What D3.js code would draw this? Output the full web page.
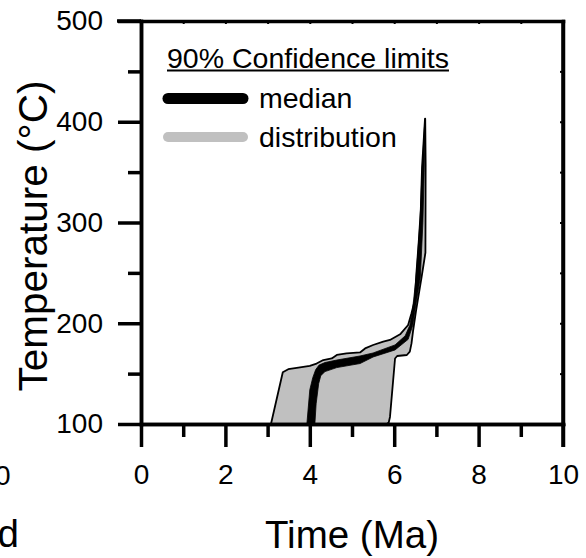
<!DOCTYPE html>
<html>
<head>
<meta charset="utf-8">
<script src="https://cdn.jsdelivr.net/npm/d3@7"></script>
<style>
  body { margin: 0; background: #fff; }
  svg { display: block; }
  text { font-family: "Liberation Sans", Arial, Helvetica, sans-serif; fill: #000; }
</style>
</head>
<body>
<svg id="chart" width="586" height="558"></svg>
<script>
// Axis ticks
const xMajor = [0, 2, 4, 6, 8, 10];
const xMinor = [1, 3, 5, 7, 9];
const yMajor = [100, 200, 300, 400, 500];
const yMinor = [150, 250, 350, 450];

// 90% confidence limits of the thermal history: [time (Ma), temperature (°C)]
// Distribution envelope, upper/left limit (from base up to the spike)
const distUpper = [
  [3.08, 100], [3.36, 151.3], [3.49, 154.4], [3.69, 155.6], [4.00, 157.7],
  [4.16, 160.0], [4.32, 163.5], [4.52, 165.1], [4.64, 168.5], [4.87, 170.2],
  [5.19, 171.0], [5.31, 175.0], [5.50, 178.4], [5.74, 181.7], [5.90, 183.4],
  [6.14, 189.0], [6.33, 198.3], [6.41, 210.0], [6.49, 223.0], [6.52, 246.0],
  [6.58, 280.0], [6.63, 312.0], [6.66, 355.0], [6.73, 403.0]
];
// Distribution envelope, lower/right limit (from the spike back down to base)
const distLower = [
  [6.735, 403.0], [6.745, 357.0], [6.74, 270.0], [6.65, 246.0], [6.52, 213.0],
  [6.45, 193.3], [6.41, 180.0], [6.37, 171.8], [6.30, 168.5], [6.07, 167.5],
  [6.02, 165.0], [5.90, 107.0], [5.87, 101.5], [5.83, 100]
];
// Median confidence band, upper/left limit
const medUpper = [
  [3.93, 100], [4.00, 134], [4.07, 146], [4.14, 154], [4.22, 158.5],
  [4.36, 161], [4.64, 163.5], [5.19, 167.5], [5.50, 170.5], [6.02, 178.5],
  [6.26, 187.5], [6.37, 198], [6.43, 212], [6.52, 246], [6.61, 300],
  [6.66, 350], [6.71, 390], [6.73, 403]
];
// Median confidence band, lower/right limit
const medLower = [
  [6.735, 403], [6.73, 390], [6.71, 350], [6.68, 300], [6.62, 246],
  [6.49, 212], [6.44, 198], [6.33, 184], [6.02, 173.5], [5.50, 166.5],
  [5.19, 160], [4.64, 156], [4.36, 152], [4.26, 148], [4.21, 140],
  [4.15, 120], [4.12, 100]
];

const svg = d3.select("#chart");
const x = d3.scaleLinear().domain([0, 10]).range([141, 563]);
const y = d3.scaleLinear().domain([100, 500]).range([424, 21]);

const area = d3.line().x(d => x(d[0])).y(d => y(d[1]));

// distribution envelope
svg.append("path")
  .attr("d", area(distUpper.concat(distLower)) + "Z")
  .attr("fill", "#c0c0c0")
  .attr("stroke", "#000")
  .attr("stroke-width", 1.8)
  .attr("stroke-linejoin", "round");

// median band
svg.append("path")
  .attr("d", area(medUpper.concat(medLower)) + "Z")
  .attr("fill", "#000")
  .attr("stroke", "#000")
  .attr("stroke-width", 0.8)
  .attr("stroke-linejoin", "round");

const AXW = 3.5;
const TICK_FONT = "28px";
function styleAxis(g) {
  g.select(".domain").attr("stroke-width", AXW).attr("stroke-linecap", "square");
  g.selectAll(".tick line").attr("stroke-width", AXW);
  g.selectAll(".tick text")
    .style("font-family", '"Liberation Sans", Arial, sans-serif')
    .style("font-size", TICK_FONT)
    .attr("fill", "#000");
}

// bottom axis: major + minor
svg.append("g").attr("transform", "translate(0,424)")
  .call(d3.axisBottom(x).tickValues(xMajor).tickSize(23).tickSizeOuter(0).tickPadding(17).tickFormat(d3.format("d")))
  .call(styleAxis);
svg.append("g").attr("transform", "translate(0,424)")
  .call(d3.axisBottom(x).tickValues(xMinor).tickSize(13).tickSizeOuter(0).tickFormat(""))
  .call(styleAxis);

// left axis: major + minor
svg.append("g").attr("transform", "translate(141,0)")
  .call(d3.axisLeft(y).tickValues(yMajor).tickSize(23).tickSizeOuter(0).tickPadding(15).tickFormat(d3.format("d")))
  .call(styleAxis);
svg.append("g").attr("transform", "translate(141,0)")
  .call(d3.axisLeft(y).tickValues(yMinor).tickSize(13).tickSizeOuter(0).tickFormat(""))
  .call(styleAxis);

// top and right frame with small inner ticks
svg.append("g").attr("transform", "translate(0,21)")
  .call(d3.axisTop(x).tickValues(xMajor.concat(xMinor)).tickSize(-3).tickSizeOuter(0).tickFormat(""))
  .call(g => { g.select(".domain").attr("stroke-width", AXW).attr("stroke-linecap", "square");
               g.selectAll(".tick line").attr("stroke-width", 2); });
svg.append("g").attr("transform", "translate(563,0)")
  .call(d3.axisRight(y).tickValues(yMajor.concat(yMinor)).tickSize(-3).tickSizeOuter(0).tickFormat(""))
  .call(g => { g.select(".domain").attr("stroke-width", AXW).attr("stroke-linecap", "square");
               g.selectAll(".tick line").attr("stroke-width", 2); });
// extend top frame to the left over the 500 tick
svg.append("line").attr("x1", 117).attr("x2", 141).attr("y1", 21).attr("y2", 21)
  .attr("stroke", "#000").attr("stroke-width", AXW);
// right frame extends down to the 10 tick end
svg.append("line").attr("x1", 563).attr("x2", 563).attr("y1", 21).attr("y2", 447)
  .attr("stroke", "#000").attr("stroke-width", AXW);

// axis titles
svg.append("text")
  .attr("x", 352).attr("y", 548)
  .attr("text-anchor", "middle")
  .style("font-size", "38.5px")
  .text("Time (Ma)");

svg.append("text")
  .attr("transform", "translate(47,236) rotate(-90)")
  .attr("text-anchor", "middle")
  .style("font-size", "40.5px")
  .text("Temperature (°C)");

// neighbouring panel fragments at the left edge
svg.append("text").attr("x", 10.5).attr("y", 484.5).attr("text-anchor", "end")
  .style("font-size", TICK_FONT).text("10");
svg.append("text").attr("x", 19).attr("y", 547).attr("text-anchor", "end")
  .style("font-size", "38.5px").text("d");

// legend
const LEG_FONT = "28.5px";
const legTitle = svg.append("text")
  .attr("x", 167).attr("y", 68)
  .style("font-size", LEG_FONT)
  .text("90% Confidence limits");
const tl = legTitle.node().getComputedTextLength();
svg.append("line").attr("x1", 167).attr("x2", 167 + tl).attr("y1", 70.5).attr("y2", 70.5)
  .attr("stroke", "#000").attr("stroke-width", 2);

const legendItems = [
  { label: "median", color: "#000", y: 98.5, width: 11 },
  { label: "distribution", color: "#c0c0c0", y: 137, width: 10 }
];
legendItems.forEach(d => {
  svg.append("line")
    .attr("x1", 168).attr("x2", 243).attr("y1", d.y).attr("y2", d.y)
    .attr("stroke", d.color).attr("stroke-width", d.width).attr("stroke-linecap", "round");
  svg.append("text")
    .attr("x", 259).attr("y", d.y + 9.5)
    .style("font-size", LEG_FONT)
    .text(d.label);
});
</script>
</body>
</html>
